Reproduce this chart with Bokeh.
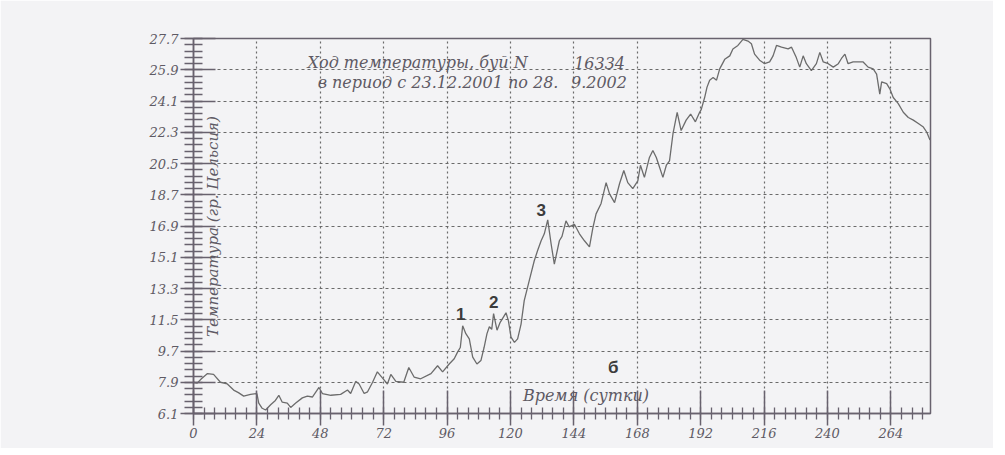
import math
from bokeh.plotting import figure
from bokeh.models import FixedTicker, PrintfTickFormatter, Label, Range1d, ColumnDataSource
from bokeh.embed import file_html
from bokeh.resources import INLINE

# ---- data (day, temperature) ----
days = [0, 1.4, 3, 5.3, 7.6, 10.2, 12.8, 15.2, 17, 19, 21.6, 24, 24.7, 26, 27.3, 29.2, 31, 32.3,
        33.6, 35.5, 36.8, 38.7, 41.2, 43.1, 45, 47.5, 48.8, 52, 55.7, 58.3, 59.5, 61.4, 62.7,
        64.6, 65.9, 67.8, 69.6, 71.5, 73.4, 74.7, 76.6, 79.6, 81.5, 83.5, 86, 89.9, 92.4, 94.3,
        96.8, 98.7, 100, 101, 101.9, 103.1, 104.4, 105.7, 107.3, 108.8, 110, 111.1, 112, 112.9,
        113.6, 114.9, 116.1, 118.3, 119.2, 120.2, 121.5, 122.7, 124, 125.2, 127.1, 129, 130.3,
        131.6, 132.8, 134.1, 135.4, 136.6, 138.5, 139.5, 141, 142.2, 144.2, 146.1, 148, 149.9,
        151.2, 152.4, 154.3, 156.2, 157.5, 159.4, 161.3, 162.9, 164.4, 166.3, 168.2, 169.2,
        170.7, 172.6, 173.9, 175.2, 176.4, 177.7, 179, 180.2, 181.5, 183.1, 184.6, 186.5, 188.2,
        190, 191.6, 192.2, 193.5, 194.4, 195.4, 196.7, 198, 199.2, 201.1, 203, 204.2, 206.1,
        208, 209.9, 211.2, 212.4, 214.3, 216.2, 218.1, 219.4, 220.7, 222.6, 225.1, 226.4,
        228.2, 229.5, 230.8, 232, 233.9, 235.8, 237.1, 238.4, 240.3, 242.2, 244.1, 245.3,
        246.6, 247.8, 249.7, 251.6, 253.5, 255.4, 257.3, 258.6, 259.8, 260.5, 262.4, 263.6,
        264.9, 266.8, 268.7, 270.6, 272.5, 274.4, 276.3, 277.6, 278.8]
temps = [7.9, 7.85, 8.1, 8.4, 8.35, 7.9, 7.8, 7.45, 7.3, 7.1, 7.2, 7.25, 6.7, 6.4, 6.3, 6.6, 6.85, 7.15,
         6.75, 6.7, 6.45, 6.7, 7.0, 7.1, 7.05, 7.6, 7.25, 7.15, 7.2, 7.45, 7.25, 7.95, 7.8,
         7.25, 7.35, 7.9, 8.5, 8.15, 7.8, 8.35, 7.95, 7.9, 8.75, 8.2, 8.1, 8.4, 8.85, 8.5,
         8.95, 9.25, 9.65, 9.9, 11.15, 10.7, 10.4, 9.35, 8.95, 9.15, 9.9, 10.7, 11.1, 10.95,
         11.85, 10.9, 11.35, 11.9, 11.45, 10.5, 10.2, 10.4, 11.25, 12.6, 13.75, 14.9, 15.5,
         16.05, 16.45, 17.25, 15.85, 14.7, 16.05, 16.3, 17.2, 16.85, 17.0, 16.45, 16.05, 15.7,
         16.8, 17.6, 18.2, 19.4, 18.75, 18.25, 19.35, 20.1, 19.4, 19.05, 19.5, 20.4,
         19.7, 20.85, 21.25, 20.85, 20.3, 19.7, 20.4, 20.65, 22.2, 23.45, 22.4, 23.0, 23.35,
         22.9, 23.45, 23.6, 24.3, 24.9, 25.3, 25.45, 25.3, 25.95, 26.5, 26.7, 27.1, 27.3,
         27.65, 27.55, 27.4, 26.8, 26.45, 26.25, 26.35, 26.7, 27.3, 27.2, 27.1, 27.2,
         26.6, 26.05, 26.7, 26.25, 25.85, 26.25, 26.9, 26.35, 26.25, 26.05, 26.25, 26.55,
         26.8, 26.25, 26.35, 26.35, 26.35, 26.05, 25.95, 25.65, 24.5, 25.2, 25.1, 24.8,
         24.3, 23.95, 23.45, 23.15, 23.0, 22.8, 22.6, 22.3, 21.85]

x_ticks = [0, 24, 48, 72, 96, 120, 144, 168, 192, 216, 240, 264]
x_minor = [d for d in range(0, 280, 4)]
y_ticks = [6.1, 7.9, 9.7, 11.5, 13.3, 15.1, 16.9, 18.7, 20.5, 22.3, 24.1, 25.9, 27.7]
y_minor = [round(6.1 + 0.36 * k, 2) for k in range(61)]

title1 = "Ход температуры, буй N"
title1b = "16334"
title2 = "в период с 23.12.2001 по 28."
title2b = "9.2002"
xlabel = "Время (сутки)"
ylabel = "Температура (гр. Цельсия)"
marks = ["1", "2", "3", "б"]

PAPER = "#f3f3f5"
INK = "#5e5a64"
AX = "#68626e"
SERIF = "DejaVu Serif"

p = figure(frame_width=737, frame_height=375, output_backend="svg", toolbar_location=None,
           x_range=Range1d(0, 279), y_range=Range1d(6.1, 27.7),
           min_border_left=193, min_border_right=63, min_border_top=38, min_border_bottom=35)
p.background_fill_color = PAPER
p.border_fill_color = PAPER
p.outline_line_color = AX
p.outline_line_width = 1.5

src = ColumnDataSource(dict(d=days, t=temps))
p.line("d", "t", source=src, line_color="#6c6c6c", line_width=1.3)

# axes
p.xaxis.ticker = FixedTicker(ticks=x_ticks, minor_ticks=x_minor)
p.yaxis.ticker = FixedTicker(ticks=y_ticks, minor_ticks=y_minor)
p.yaxis.formatter = PrintfTickFormatter(format="%.1f")
for ax in (p.xaxis[0], p.yaxis[0]):
    ax.axis_line_color = AX
    ax.axis_line_width = 1.5
    ax.major_tick_line_color = AX
    ax.major_tick_line_width = 1.5
    ax.minor_tick_line_color = AX
    ax.minor_tick_line_width = 1.3
    ax.major_label_text_font = SERIF
    ax.major_label_text_font_style = "italic"
    ax.major_label_text_color = INK
    ax.major_label_text_font_size = "13px"
p.xaxis.major_tick_in = 23
p.xaxis.major_tick_out = 12
p.xaxis.minor_tick_in = 6
p.xaxis.minor_tick_out = 6
p.xaxis.major_label_standoff = 2
p.yaxis.major_tick_in = 22
p.yaxis.major_tick_out = 13
p.yaxis.minor_tick_in = 9
p.yaxis.minor_tick_out = 9
p.yaxis.major_label_standoff = 2

p.xgrid.grid_line_color = "#6a6a6a"
p.xgrid.grid_line_dash = "2 3"
p.xgrid.grid_line_width = 1.2
p.ygrid.grid_line_color = "#6a6a6a"
p.ygrid.grid_line_dash = "3 3"
p.ygrid.grid_line_width = 1.2

def lab(x, y, text, size="14px", font=SERIF, style="italic", align="left", angle=0.0, color=INK):
    p.add_layout(Label(x=x, y=y, text=text, text_font=font, text_font_style=style,
                       text_font_size=size, text_color=color, text_align=align,
                       text_baseline="middle", angle=angle))

lab(43.2, 26.3, title1, size="16px")
lab(144.1, 26.3, title1b, size="16px")
lab(47.0, 25.17, title2, size="16px")
lab(142.9, 25.17, title2b, size="16px")
lab(124.7, 7.14, xlabel, size="16px")
lab(7.2, 16.87, ylabel, size="15px", align="center", angle=math.pi / 2)

mark_pos = [(101.2, 11.86), (113.7, 12.55), (131.6, 17.85), (158.9, 8.75)]
for (mx, my), m in zip(mark_pos, marks):
    lab(mx, my, m, size="17px", font="Liberation Sans", style="bold", align="center", color="#3c3c3c")

open("out.html", "w").write(file_html(p, INLINE))
